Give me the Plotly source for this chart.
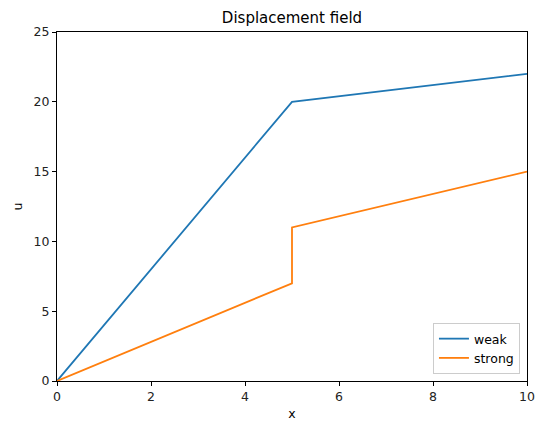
import plotly.graph_objects as go

# Displacement profiles along x
x_weak = [0, 5, 10]
u_weak = [0, 20, 22]

x_strong = [0, 5, 5, 10]
u_strong = [0, 7, 11, 15]

x_ticks = [0, 2, 4, 6, 8, 10]
u_ticks = [0, 5, 10, 15, 20, 25]

fig = go.Figure()
fig.add_trace(go.Scatter(x=x_weak, y=u_weak, mode="lines", name="weak",
                         line=dict(color="#1f77b4", width=1.8)))
fig.add_trace(go.Scatter(x=x_strong, y=u_strong, mode="lines", name="strong",
                         line=dict(color="#ff7f0e", width=1.8)))

axis_common = dict(
    showgrid=False, zeroline=False, showline=True, linecolor="black",
    linewidth=1, mirror=True, ticks="outside", ticklen=4, tickwidth=1,
    tickcolor="black", tickfont=dict(size=12.5, color="#222"),
    automargin=False,
)

fig.update_layout(
    width=535, height=421,
    margin=dict(l=57, r=8, t=32, b=40),
    paper_bgcolor="white", plot_bgcolor="white",
    font=dict(family="DejaVu Sans", color="black"),
    title=dict(text="Displacement field", x=0.5, xanchor="center",
               xref="paper", y=1 - 18 / 421, yanchor="middle",
               font=dict(size=15)),
    xaxis=dict(range=[0, 10], tickvals=x_ticks,
               title=dict(text="x", font=dict(size=12.5), standoff=7),
               **axis_common),
    yaxis=dict(range=[0, 25], tickvals=u_ticks,
               title=dict(text="u", font=dict(size=12.5), standoff=8),
               **axis_common),
    legend=dict(x=0.985, y=0.02, xanchor="right", yanchor="bottom",
                bgcolor="rgba(255,255,255,0.8)", bordercolor="#ccc",
                borderwidth=1, font=dict(size=12.5)),
    showlegend=True,
)

fig.write_html("out.html")
